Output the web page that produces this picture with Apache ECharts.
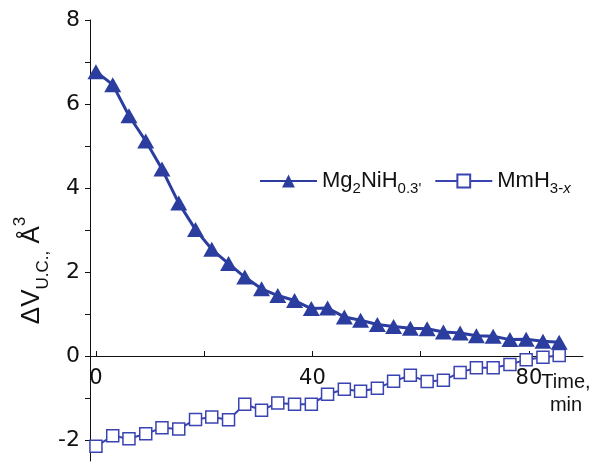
<!DOCTYPE html>
<html>
<head>
<meta charset="utf-8">
<script src="https://cdn.jsdelivr.net/npm/echarts@6/dist/echarts.min.js"></script>
<style>
html,body{margin:0;padding:0;background:#fff;}
#chart{width:595px;height:472px;}
</style>
</head>
<body>
<div id="chart"></div>
<script>
// Time, min
var times = [0, 3.1, 6.1, 9.2, 12.2, 15.3, 18.4, 21.4, 24.5, 27.5, 30.6, 33.6, 36.7, 39.8, 42.8, 45.9, 48.9, 52.0, 55.0, 58.1, 61.2, 64.2, 67.3, 70.3, 73.4, 76.5, 79.5, 82.6, 85.6];
// Mg2NiH0.3 (filled triangles)
var mg2nih = [6.77, 6.46, 5.72, 5.12, 4.45, 3.64, 3.01, 2.54, 2.20, 1.88, 1.60, 1.44, 1.32, 1.13, 1.14, 0.93, 0.85, 0.75, 0.70, 0.66, 0.65, 0.57, 0.55, 0.48, 0.47, 0.39, 0.40, 0.35, 0.33];
// MmH3-x (open squares)
var mmh = [-2.15, -1.90, -1.97, -1.85, -1.71, -1.74, -1.51, -1.45, -1.52, -1.15, -1.29, -1.12, -1.15, -1.15, -0.91, -0.79, -0.84, -0.77, -0.60, -0.46, -0.61, -0.58, -0.39, -0.28, -0.28, -0.20, -0.09, -0.03, 0.01];
var xTicks = [0, 20, 40, 60, 80];
var xLabels = [0, 40, 80];
var yTicks = [-2, -1, 0, 1, 2, 3, 4, 5, 6, 7, 8];
var yLabels = [-2, 0, 2, 4, 6, 8];

function pairs(xs, ys) { return xs.map(function (x, i) { return [x, ys[i]]; }); }

var chart = echarts.init(document.getElementById('chart'), null, {renderer: 'canvas'});
var font = 'Liberation Sans, Arial, sans-serif';
var numFont = 'DejaVu Sans, sans-serif';
var triColor = '#2b3d9e';
var sqColor = '#3a43b2';

chart.setOption({
  animation: false,
  backgroundColor: '#ffffff',
  textStyle: {fontFamily: font},
  grid: {left: 90, right: 12, top: 20, bottom: 11, containLabel: false, outerBoundsMode: 'none'},
  legend: {
    left: 254, top: 165,
    itemWidth: 57, itemHeight: 16, itemGap: 13,
    textStyle: {
      fontFamily: font, color: '#111',
      rich: {
        a: {fontSize: 22, fontFamily: font, color: '#111', lineHeight: 30},
        s: {fontSize: 15, fontFamily: font, color: '#111', lineHeight: 15, verticalAlign: 'bottom'},
        si: {fontSize: 15, fontFamily: font, color: '#111', lineHeight: 15, verticalAlign: 'bottom', fontStyle: 'italic'}
      }
    },
    formatter: function (name) {
      if (name === 'Mg2NiH0.3') return '{a|Mg}{s|2}{a|NiH}{s|0.3\'}';
      return '{a|MmH}{s|3-}{si|x}';
    },
    data: ['Mg2NiH0.3', 'MmH3-x']
  },
  xAxis: {
    type: 'value', min: -1.1, max: 90,
    offset: -105,
    axisLine: {onZero: false, lineStyle: {color: '#111', width: 1}},
    axisTick: {show: true, inside: true, length: 5, customValues: xTicks, lineStyle: {color: '#111'}},
    axisLabel: {customValues: xLabels, fontSize: 21, color: '#111', margin: 12, fontFamily: numFont},
    splitLine: {show: false},
    name: 'Time,\nmin', nameLocation: 'end', nameGap: -17, nameMoveOverlap: false,
    nameTextStyle: {fontSize: 20, color: '#111', align: 'center', verticalAlign: 'top', lineHeight: 23, padding: [15, 0, 0, 0], fontFamily: font}
  },
  yAxis: {
    type: 'value', min: -2.5, max: 8,
    axisLine: {show: true, onZero: false, lineStyle: {color: '#111', width: 1}},
    axisTick: {show: true, inside: false, length: 5, customValues: yTicks, lineStyle: {color: '#111'}},
    axisLabel: {customValues: yLabels, fontSize: 22, color: '#111', margin: 10, fontFamily: numFont},
    splitLine: {show: false},
    name: '{a|ΔV}{s|U.C.,}{a| Å}{p|3}', nameLocation: 'middle', nameGap: 38, nameRotate: 90, nameMoveOverlap: false,
    nameTextStyle: {
      color: '#111', padding: [0, 60, 0, 0],
      rich: {
        a: {fontSize: 26, fontFamily: font, color: '#111', lineHeight: 40},
        s: {fontSize: 17, fontFamily: font, color: '#111', lineHeight: 18, verticalAlign: 'bottom'},
        p: {fontSize: 17, fontFamily: font, color: '#111', lineHeight: 24, verticalAlign: 'top'}
      }
    }
  },
  series: [
    {
      name: 'Mg2NiH0.3', type: 'line', data: pairs(times, mg2nih),
      symbol: 'triangle', symbolSize: [17, 15],
      lineStyle: {color: triColor, width: 3},
      itemStyle: {color: triColor, borderWidth: 0},
      z: 3
    },
    {
      name: 'MmH3-x', type: 'line', data: pairs(times, mmh),
      symbol: 'rect', symbolSize: 12,
      lineStyle: {color: sqColor, width: 2},
      itemStyle: {color: '#ffffff', borderColor: sqColor, borderWidth: 1.5},
      z: 2
    }
  ]
});
</script>
</body>
</html>
